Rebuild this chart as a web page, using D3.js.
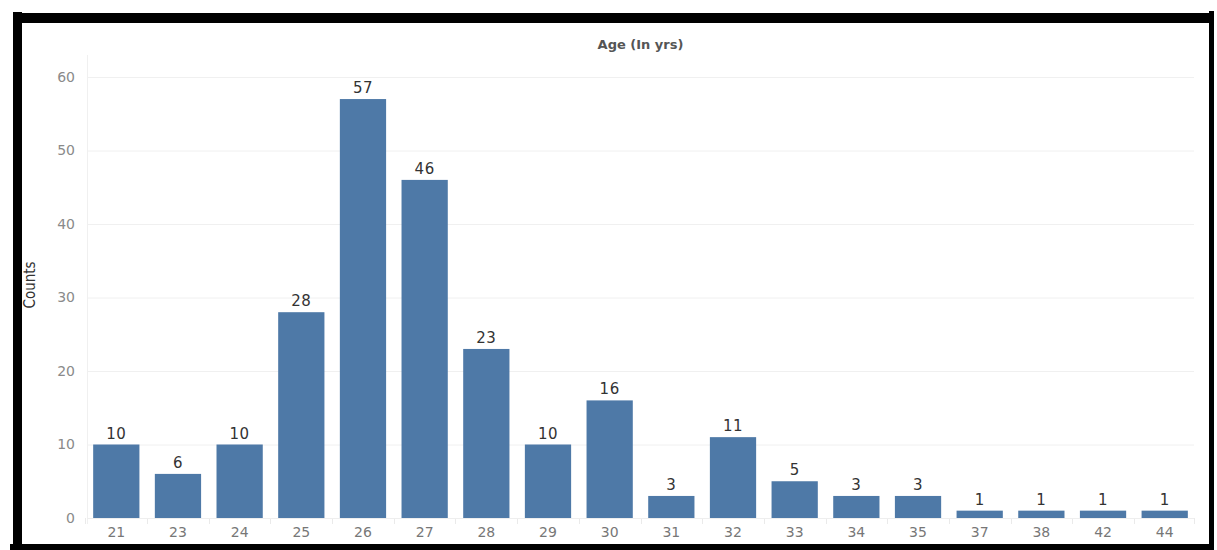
<!DOCTYPE html>
<html>
<head>
<meta charset="utf-8">
<script src="https://cdn.jsdelivr.net/npm/d3@7"></script>
<style>
  body { margin: 0; background: #fff; }
  svg { display: block; }
</style>
</head>
<body>
<div id="chart"></div>
<script>
const ages = ["21", "23", "24", "25", "26", "27", "28", "29", "30", "31", "32", "33", "34", "35", "37", "38", "42", "44"];
const counts = [10, 6, 10, 28, 57, 46, 23, 10, 16, 3, 11, 5, 3, 3, 1, 1, 1, 1];
const yTicks = [0, 10, 20, 30, 40, 50, 60];

const width = 1217, height = 550;
const margin = { left: 87, right: 1194, top: 55, bottom: 518 };

const svg = d3.select("#chart")
    .append("svg")
    .attr("width", width)
    .attr("height", height);

const x = d3.scaleBand()
    .domain(ages)
    .range([margin.left, margin.right])
    .paddingInner(0.25)
    .paddingOuter(0.1);

const y = d3.scaleLinear()
    .domain([0, 60])
    .range([margin.bottom, 77]);

// gridlines
svg.append("g")
    .selectAll("line")
    .data(yTicks)
    .join("line")
    .attr("x1", margin.left)
    .attr("x2", margin.right)
    .attr("y1", d => y(d) + 0.5)
    .attr("y2", d => y(d) + 0.5)
    .style("stroke", "#f0f0f0")
    .style("stroke-width", 1);

// left axis line
svg.append("line")
    .attr("x1", margin.left + 0.5)
    .attr("x2", margin.left + 0.5)
    .attr("y1", margin.top)
    .attr("y2", margin.bottom + 6)
    .style("stroke", "#f0f0f0");

// y axis
const yAxis = svg.append("g")
    .attr("transform", `translate(${margin.left},0)`)
    .call(d3.axisLeft(y).tickValues(yTicks).tickSize(0).tickPadding(12));
yAxis.select(".domain").remove();
yAxis.selectAll("text")
    .style("font-family", "DejaVu Sans, sans-serif")
    .style("font-size", "14px")
    .style("fill", "#8a8a8a");

// x axis
const xAxis = svg.append("g")
    .attr("transform", `translate(0,${margin.bottom})`)
    .call(d3.axisBottom(x).tickSize(0).tickPadding(9));
xAxis.select(".domain").remove();
xAxis.selectAll("text")
    .style("font-family", "DejaVu Sans, sans-serif")
    .style("font-size", "14px")
    .style("fill", "#777");

// band separators under the axis
const seps = ages.map(a => x(a) - x.step() * x.paddingInner() / 2);
seps.push(margin.right);
svg.append("g")
    .selectAll("line")
    .data(seps)
    .join("line")
    .attr("x1", d => Math.round(d) + 0.5)
    .attr("x2", d => Math.round(d) + 0.5)
    .attr("y1", margin.bottom)
    .attr("y2", margin.bottom + 6)
    .style("stroke", "#eaeaea");

// zero line
svg.append("line")
    .attr("x1", margin.left)
    .attr("x2", margin.right)
    .attr("y1", margin.bottom + 0.5)
    .attr("y2", margin.bottom + 0.5)
    .style("stroke", "#eeeeee");

// bars
svg.append("g")
    .selectAll("rect")
    .data(ages)
    .join("rect")
    .attr("x", d => x(d))
    .attr("y", (d, i) => y(counts[i]))
    .attr("width", x.bandwidth())
    .attr("height", (d, i) => y(0) - y(counts[i]))
    .style("fill", "#4e79a7");

// value labels
svg.append("g")
    .selectAll("text")
    .data(ages)
    .join("text")
    .attr("x", d => x(d) + x.bandwidth() / 2)
    .attr("y", (d, i) => y(counts[i]) - 6)
    .attr("text-anchor", "middle")
    .style("font-family", "DejaVu Sans, sans-serif")
    .style("font-size", "15px")
    .style("letter-spacing", "0.5px")
    .style("fill", "#333")
    .text((d, i) => counts[i]);

// title
svg.append("text")
    .attr("x", (margin.left + margin.right) / 2)
    .attr("y", 49)
    .attr("text-anchor", "middle")
    .style("font-family", "DejaVu Sans, sans-serif")
    .style("font-size", "13px")
    .style("font-weight", "bold")
    .style("fill", "#555")
    .text("Age (In yrs)");

// y title
svg.append("text")
    .attr("transform", "translate(35,285) rotate(-90)")
    .attr("text-anchor", "middle")
    .style("font-family", "Liberation Sans Narrow, DejaVu Sans Condensed, sans-serif")
    .style("font-size", "15px")
    .style("fill", "#333")
    .text("Counts");

// black frame
const frame = svg.append("g").style("fill", "#000");
frame.append("rect").attr("x", 13).attr("y", 13).attr("width", 1198).attr("height", 10);
frame.append("rect").attr("x", 13).attr("y", 12).attr("width", 9).attr("height", 538);
frame.append("rect").attr("x", 1209).attr("y", 11).attr("width", 5).attr("height", 539);
frame.append("rect").attr("x", 10).attr("y", 544).attr("width", 1204).attr("height", 6);
</script>
</body>
</html>
